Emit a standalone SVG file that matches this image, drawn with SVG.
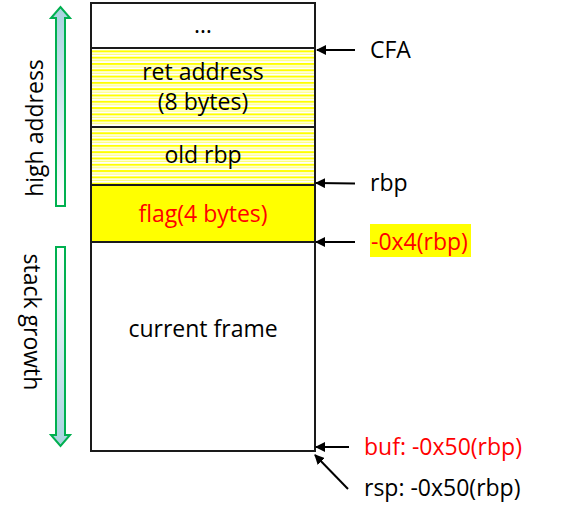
<svg xmlns="http://www.w3.org/2000/svg" width="587" height="521" viewBox="0 0 587 521">
<style>
.t{font-family:"Open Sans","Liberation Sans",sans-serif;font-size:23px;fill:#000}
.c{text-anchor:middle}
.r{fill:#ff0000}
.box{fill:none;stroke:#1a1a1a;stroke-width:2}
.con{stroke:#000;stroke-width:2;fill:none}
</style>
<defs>
<pattern id="stripes" patternUnits="userSpaceOnUse" x="0" y="0" width="10" height="6.3">
<rect width="10" height="6.3" fill="#fff"/>
<rect y="0" width="10" height="2" fill="#ffff00"/>
<rect y="3.4" width="10" height="1" fill="#ffff66"/>
</pattern>
<linearGradient id="gu" x1="0" y1="1" x2="0" y2="0">
<stop offset="0" stop-color="#ffffff"/>
<stop offset="1" stop-color="#a6d3df"/>
</linearGradient>
<linearGradient id="gd" x1="0" y1="0" x2="0" y2="1">
<stop offset="0" stop-color="#ffffff"/>
<stop offset="1" stop-color="#a6d3df"/>
</linearGradient>
<marker id="ah" markerWidth="10" markerHeight="10" refX="9" refY="5" orient="auto" markerUnits="userSpaceOnUse">
<path d="M0,0 L10,5 L0,10 z" fill="#000"/>
</marker>
</defs>
<g id="high-address">
<path d="M56,206 L56,18 L51,18 L60.5,7 L70,18 L65,18 L65,206 Z" fill="url(#gu)" stroke="#00b050" stroke-width="2"/>
<text class="t c" transform="translate(43,128) rotate(-90)">high address</text>
</g>
<g id="stack-growth">
<path d="M56,247 L65,247 L65,435 L70,435 L60.5,446 L51,435 L56,435 Z" fill="url(#gd)" stroke="#00b050" stroke-width="2"/>
<text class="t c" transform="translate(24,322) rotate(90)">stack growth</text>
</g>
<g id="cell-top">
<rect x="91" y="3" width="224" height="45" fill="#fff"/>
<text class="t c" x="203" y="33">…</text>
</g>
<g id="ret-address">
<rect x="91" y="48" width="224" height="79" fill="url(#stripes)"/>
<text class="t c" x="203" y="80">ret address</text>
<text class="t c" x="203" y="110">(8 bytes)</text>
</g>
<g id="old-rbp">
<rect x="91" y="127" width="224" height="58" fill="url(#stripes)"/>
<text class="t c" x="203" y="163">old rbp</text>
</g>
<g id="flag">
<rect x="91" y="185" width="224" height="57" fill="#ffff00"/>
<text class="t c r" x="203" y="222">flag(4 bytes)</text>
</g>
<g id="current-frame">
<rect x="91" y="242" width="224" height="209" fill="#fff"/>
<text class="t c" x="203" y="337">current frame</text>
</g>
<g id="frame-lines">
<rect class="box" x="91" y="3" width="224" height="448"/>
<line class="box" x1="91" y1="48" x2="315" y2="48"/>
<line class="box" x1="91" y1="127" x2="315" y2="127"/>
<line class="box" x1="91" y1="185" x2="315" y2="185"/>
<line class="box" x1="91" y1="242" x2="315" y2="242"/>
</g>
<g id="connectors">
<line class="con" x1="355" y1="50" x2="317" y2="50" marker-end="url(#ah)"/>
<line class="con" x1="355" y1="183.5" x2="316" y2="183" marker-end="url(#ah)"/>
<line class="con" x1="355" y1="242" x2="316" y2="242" marker-end="url(#ah)"/>
<line class="con" x1="349" y1="447" x2="316" y2="447" marker-end="url(#ah)"/>
<line class="con" x1="348" y1="489" x2="315" y2="455" marker-end="url(#ah)"/>
</g>
<g id="labels">
<text class="t" x="370" y="58">CFA</text>
<text class="t" x="370" y="191">rbp</text>
<rect x="370" y="224" width="101" height="33" fill="#ffff00"/>
<text class="t r" x="371" y="250">-0x4(rbp)</text>
<text class="t r" x="364" y="455">buf: -0x50(rbp)</text>
<text class="t" x="364" y="496">rsp: -0x50(rbp)</text>
</g>
</svg>
